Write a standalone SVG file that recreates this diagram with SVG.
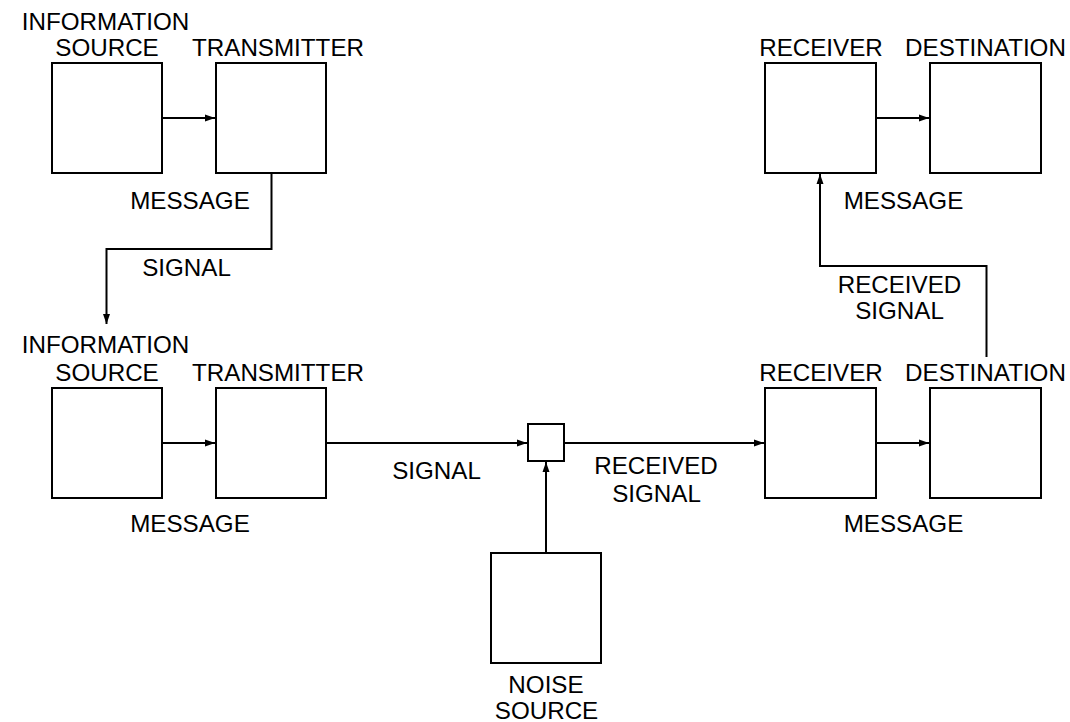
<svg xmlns="http://www.w3.org/2000/svg" width="1070" height="722" viewBox="0 0 1070 722">
<style>
.box{fill:#fff;stroke:#000;stroke-width:2}
.ln{fill:none;stroke:#000;stroke-width:2}
text{font-family:"Liberation Sans",Arial,sans-serif;font-size:24.2px;fill:#000;text-anchor:middle}
</style>
<defs>
<marker id="ah" viewBox="0 0 10 10" refX="10" refY="5" markerWidth="5" markerHeight="5" markerUnits="strokeWidth" orient="auto">
<path d="M0,1.5 L10,5 L0,8.5 z" fill="#000"/>
</marker>
</defs>
<rect width="1070" height="722" fill="#fff"/>
<g id="connectors">
<path class="ln" d="M162,118 H215" marker-end="url(#ah)"/>
<path class="ln" d="M271.5,173 V249 H106.5 V324" marker-end="url(#ah)"/>
<path class="ln" d="M162,443 H215" marker-end="url(#ah)"/>
<path class="ln" d="M326,443 H527" marker-end="url(#ah)"/>
<path class="ln" d="M546,553 V462" marker-end="url(#ah)"/>
<path class="ln" d="M564,443 H764" marker-end="url(#ah)"/>
<path class="ln" d="M876,443 H929" marker-end="url(#ah)"/>
<path class="ln" d="M876,118 H929" marker-end="url(#ah)"/>
<path class="ln" d="M986.5,357 V266 H820 V174" marker-end="url(#ah)"/>
</g>
<g id="top-source"><rect class="box" x="52" y="63" width="110" height="110"/><text x="105.5" y="30">INFORMATION</text><text x="107" y="56">SOURCE</text></g>
<g id="top-transmitter"><rect class="box" x="216" y="63" width="110" height="110"/><text x="278" y="56">TRANSMITTER</text></g>
<g id="top-receiver"><rect class="box" x="765" y="63" width="111" height="110"/><text x="821" y="56">RECEIVER</text></g>
<g id="top-destination"><rect class="box" x="930" y="63" width="111" height="110"/><text x="985.5" y="56">DESTINATION</text></g>
<g id="bot-source"><rect class="box" x="52" y="388" width="110" height="110"/><text x="105.5" y="353">INFORMATION</text><text x="107" y="381">SOURCE</text></g>
<g id="bot-transmitter"><rect class="box" x="216" y="388" width="110" height="110"/><text x="278" y="381">TRANSMITTER</text></g>
<g id="mixer"><rect class="box" x="528" y="424" width="36" height="37"/></g>
<g id="noise"><rect class="box" x="491" y="553" width="110" height="110"/><text x="546" y="693">NOISE</text><text x="546.5" y="719">SOURCE</text></g>
<g id="bot-receiver"><rect class="box" x="765" y="388" width="111" height="110"/><text x="821" y="381">RECEIVER</text></g>
<g id="bot-destination"><rect class="box" x="930" y="388" width="111" height="110"/><text x="985.5" y="381">DESTINATION</text></g>
<g id="labels">
<text x="190" y="209">MESSAGE</text>
<text x="186.5" y="276">SIGNAL</text>
<text x="190" y="532">MESSAGE</text>
<text x="436.5" y="479">SIGNAL</text>
<text x="656" y="474">RECEIVED</text>
<text x="656.5" y="502">SIGNAL</text>
<text x="903.5" y="209">MESSAGE</text>
<text x="899.5" y="293">RECEIVED</text>
<text x="899.5" y="319">SIGNAL</text>
<text x="903.5" y="532">MESSAGE</text>
</g>
</svg>
